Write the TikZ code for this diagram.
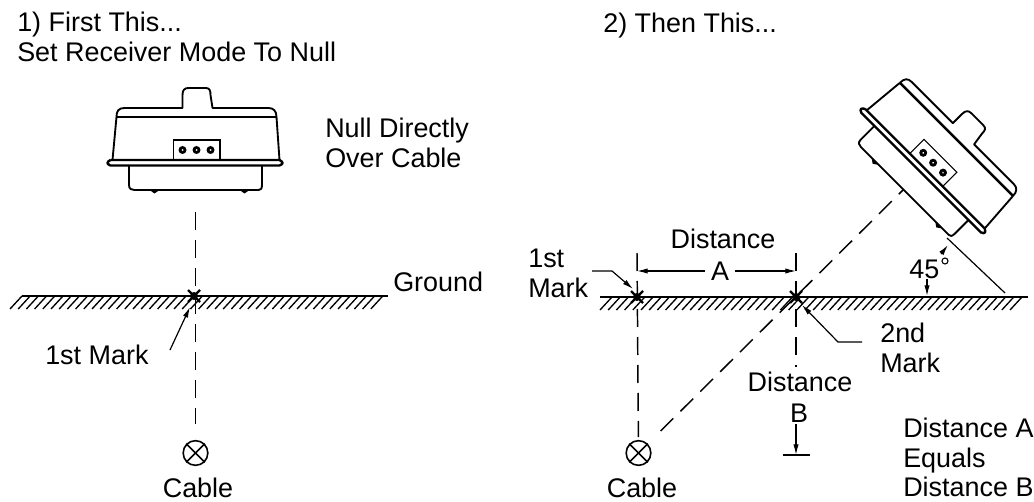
\documentclass[tikz,border=0pt]{standalone}
\usepackage{fontspec}
\setmainfont{Liberation Sans}
\usetikzlibrary{arrows.meta,calc}
\tikzset{
  px/.style={x=0.75pt,y=-0.75pt},
  lab/.style={font=\fontsize{20.2}{22}\selectfont,inner sep=0pt,align=left,text=black},
  clab/.style={lab,align=center},
  gline/.style={line width=1.6pt},
  hatch/.style={line width=1pt},
  dashl/.style={line width=1.1pt,dash pattern=on 13.5pt off 7.5pt},
  thinln/.style={line width=0.9pt},
  arr/.style={line width=0.9pt,-{Latex[length=8pt,width=4pt]}},
  body/.style={line width=1.4pt,line join=round},
  bodyheavy/.style={line width=1.8pt,line join=round},
  mk/.style={line width=1.8pt},
  cab/.style={circle,draw,line width=1.2pt,minimum size=18.5pt,inner sep=0pt}
}
\newcommand{\receiver}{%
  % origin = centre of flange, y grows downward
  \draw[body] (-78,-46) .. controls (-78,-52) and (-76,-55) .. (-70,-55) -- (-12,-55)
     -- (-12,-68) .. controls (-12,-73) and (-10,-75) .. (-6,-75) -- (11,-75)
     .. controls (15,-75) and (16,-73) .. (16,-68) -- (18,-55) -- (74,-55)
     .. controls (79,-55) and (82,-52) .. (82,-46);
  \draw[bodyheavy] (-78,-46) -- (82,-46);
  \draw[body] (-78,-46) -- (-82,-3);
  \draw[body] (82,-46) -- (85,-3);
  \draw[bodyheavy] (-84,-3) -- (85,-3) .. controls (89,-1) and (89,1) .. (85,2.5) -- (-84,2.5) .. controls (-88,1) and (-88,-1) .. (-84,-3);
  \draw[body] (-65.5,3) -- (-65.5,22) .. controls (-65.5,26) and (-63,27) .. (-60,27) -- (64,27) .. controls (66,27) and (67.5,26) .. (67.5,22) -- (67.5,3);
  \fill (-45,27) -- (-40,30.5) -- (-35,27) -- cycle;
  \fill (45,27) -- (50,30.5) -- (55,27) -- cycle;
  \draw[line width=0.8pt] (-21,-3) -- (-21,-23) -- (25.5,-23) -- (25.5,-3);
  \fill (-12,-13) circle (4);
  \fill (2,-13) circle (4);
  \fill (16,-13) circle (4);
  \fill[white] (-12,-13) circle (1);
  \fill[white] (2,-13) circle (1);
  \fill[white] (16,-13) circle (1);
}
\newcommand{\starmark}[1]{%
  \draw[mk] ($(#1)+(-6,-6)$) -- ($(#1)+(6,6)$);
  \draw[mk] ($(#1)+(-6,6)$) -- ($(#1)+(6,-6)$);
  \fill (#1) circle (4);
}
\newcommand{\crossed}[1]{%
  \draw[line width=1.2pt] (#1.45) -- (#1.225);
  \draw[line width=1.2pt] (#1.135) -- (#1.315);
}
\begin{document}
\begin{tikzpicture}[px]
\useasboundingbox (0,0) rectangle (1034,502);
% texts
\node[lab,anchor=north west] (t1) at (17,12) {1) First This...\\Set Receiver Mode To Null};
\node[lab,anchor=base west] (t2) at (603,33) {2) Then This...};
\node[lab,anchor=north west] (t3) at (325,118) {Null Directly\\Over Cable};
\node[lab,anchor=base west] (tg) at (393,291) {Ground};
\node[lab,anchor=base west] (tm1) at (45,364) {1st Mark};
\node[clab,anchor=base] (tc1) at (198,497) {Cable};
\node[lab,anchor=north west] (tm) at (528,249) {1st\\Mark};
\node[clab,anchor=base] (td) at (723,248) {Distance};
\node[clab,anchor=base] (ta) at (720,280) {A};
\node[lab,anchor=north west] (t2m) at (880,323) {2nd\\Mark};
\node[clab,anchor=base] (tdb) at (800,391) {Distance};
\node[clab,anchor=base] (tb) at (799,422) {B};
\node[clab,anchor=base] (tc2) at (642,497) {Cable};
\node[lab,anchor=north west] (te) at (903,418) {Distance A\\Equals\\Distance B};
\node[lab,anchor=base west] (t45) at (909,278) {45};
\coordinate (deg) at (945,261);
\draw[line width=0.8pt] (deg) circle (3);
% left part
\coordinate (gl0) at (22,296); \coordinate (gl1) at (388,296);
\draw[gline] (gl0) -- (gl1);
\foreach \x in {22,30.2,...,388} \draw[hatch] (\x,296) -- (\x-12,309);
\coordinate (m1) at (194,296);
\coordinate (dv1) at (195.5,212);
\node[cab] (cb1) at (195.5,453) {};
\crossed{cb1}
\draw[dashl,shorten >=12pt] (dv1) -- (cb1);
\starmark{m1}
\coordinate (a1s) at (170,350); \coordinate (a1e) at (190,307);
\draw[arr] (a1s) -- (a1e);
\begin{scope}[shift={(194.5,163)}]\receiver\end{scope}
% right part
\coordinate (gr0) at (600,297); \coordinate (gr1) at (1028,297);
\draw[gline] (gr0) -- (gr1);
\foreach \x in {612,620.2,...,1030} \draw[hatch] (\x,297) -- (\x-12,310);
\coordinate (m2) at (637,297);
\coordinate (m3) at (796,297);
\coordinate (dv2) at (637,253);
\coordinate (dv3) at (796,253);
\coordinate (dv3e) at (796,367);
\coordinate (dv4) at (903,190);
\node[cab] (cb2) at (638.5,453) {};
\crossed{cb2}
\draw[dashl,shorten >=12pt] (dv2) -- (cb2.center);
\draw[dashl] (dv3) -- (dv3e);
\draw[dashl,shorten <=13.5pt] (cb2) -- (dv4);
\starmark{m2}
\starmark{m3}
\coordinate (al) at (637,271); \coordinate (ar) at (796,271);
\draw[arr] (705,271) -- (al);
\draw[arr] (735,271) -- (ar);
\draw[arr] (592,271) -- (612,271) -- (633,289);
\draw[arr] (862,342) -- (838,342) -- (802,305);
\coordinate (bbar) at (796,455);
\draw[arr] (796,424) -- (bbar);
\draw[line width=1.2pt] (783,455) -- (810,455);
% 45 degrees
\coordinate (tick0) at (947,238); \coordinate (tick1) at (1005,293);
\draw[thinln] (tick0) -- (tick1);
\draw[arr] (941,254) -- (948,245);
\draw[arr] (927,279) -- (927,296);
\begin{scope}[shift={(922.5,170.5)},rotate=-45]\receiver\end{scope}
\end{tikzpicture}
\end{document}
